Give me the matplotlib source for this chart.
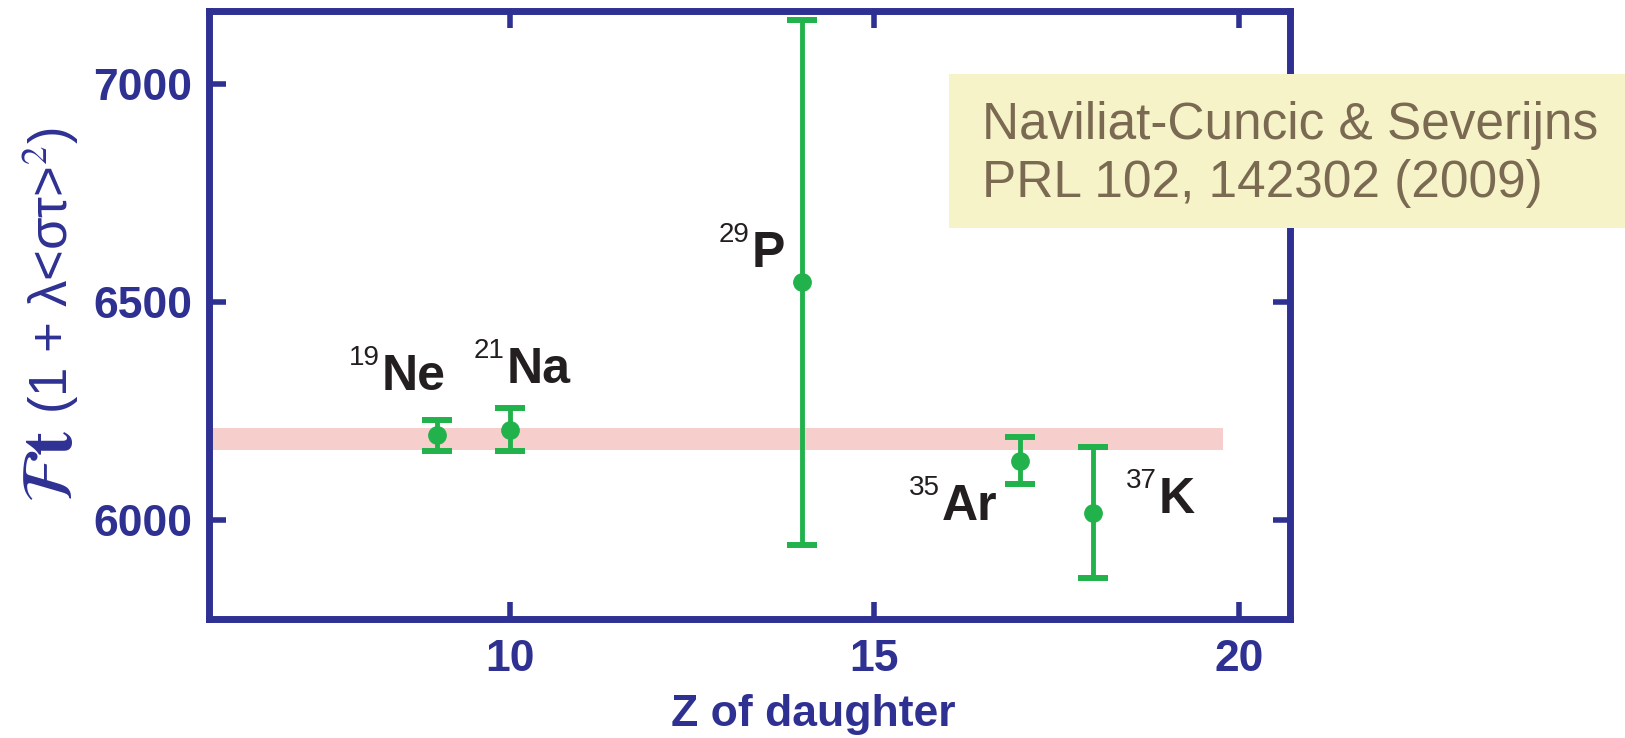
import matplotlib
matplotlib.use("Agg")
import matplotlib.pyplot as plt
from matplotlib.patches import Rectangle

# ---- data ----
Z = [9, 10, 14, 17, 18]
Ft = [6195, 6208, 6545, 6137, 6017]
Ft_err = [36, 50, 602, 53, 150]
mass_numbers = ["19", "21", "29", "35", "37"]
symbols = ["Ne", "Na", "P", "Ar", "K"]
label_x = [8.24, 9.95, 13.31, 15.93, 18.90]
label_y = [6298, 6315, 6581, 6001, 6017]
band_low, band_high = 6160, 6212
band_xmax = 19.78
xticks = [10, 15, 20]
yticks = [6000, 6500, 7000]
xlim = (5.87, 20.7)
ylim = (5775, 7168)
ref_lines = ["Naviliat-Cuncic & Severijns", "PRL 102, 142302 (2009)"]

BLUE = "#2e3192"
GREEN = "#22b24c"
PINK = "#f6cecb"
BOX = "#f7f3c9"
BOXTEXT = "#7b6a52"
BLACK = "#231f20"

plt.rcParams["font.family"] = ["Liberation Sans", "DejaVu Sans"]

fig = plt.figure(figsize=(16.25, 7.38), dpi=100)
ax = fig.add_axes([0.1286, 0.1619, 0.6652, 0.8238])
ax.set_xlim(*xlim)
ax.set_ylim(*ylim)

ax.fill_between([xlim[0], band_xmax], band_low, band_high, color=PINK, lw=0, zorder=1)

ax.errorbar(Z, Ft, yerr=Ft_err, fmt="o", color=GREEN, ms=12.5, elinewidth=3.5,
            capsize=10.5, capthick=4.3, zorder=3)

for sx, sy, m, s in zip(label_x, label_y, mass_numbers, symbols):
    t = ax.text(sx, sy, s, fontsize=36, fontweight="bold", color=BLACK,
                ha="left", va="baseline", zorder=4)
    ax.annotate(m, xy=(0, 1), xycoords=t, xytext=(-1.5, 6.5), textcoords="offset points",
                ha="right", va="top", fontsize=20, color=BLACK, zorder=4)

for sp in ax.spines.values():
    sp.set_color(BLUE)
    sp.set_linewidth(5)
ax.set_xticks(xticks)
ax.set_yticks(yticks)
ax.tick_params(direction="in", length=12, width=4, color=BLUE, top=True, right=True,
               labelsize=32, labelcolor=BLUE)
ax.tick_params(axis="x", pad=15)
ax.tick_params(axis="y", pad=12)
for lbl in ax.get_xticklabels() + ax.get_yticklabels():
    lbl.set_fontweight("bold")

ax.set_xlabel("Z of daughter", fontsize=32, fontweight="bold", color=BLUE)
ax.xaxis.label.set_va("baseline")
ax.xaxis.set_label_coords(0.559, -0.176)

ax.set_ylabel("(1 + λ<στ>$^{2}$)", fontsize=38, color=BLUE, math_fontfamily="stix")
ax.yaxis.label.set_va("center")
ax.yaxis.set_label_coords(-0.146, 0.572)
ax.text(-0.144, 0.25, r"$\mathcal{F}\mathbf{t}$", transform=ax.transAxes,
        rotation=90, ha="center", va="center", fontsize=52, color=BLUE,
        math_fontfamily="stix")

fig.patches.append(Rectangle((949 / 1625, 1 - 228 / 738), 1.0, 154 / 738,
                             transform=fig.transFigure, facecolor=BOX,
                             edgecolor="none", zorder=5))
for i, line in enumerate(ref_lines):
    fig.text(982 / 1625, 1 - (139 + 58 * i) / 738, line, fontsize=37, color=BOXTEXT,
             ha="left", va="baseline", zorder=6)

fig.savefig("out.png", dpi=100)
